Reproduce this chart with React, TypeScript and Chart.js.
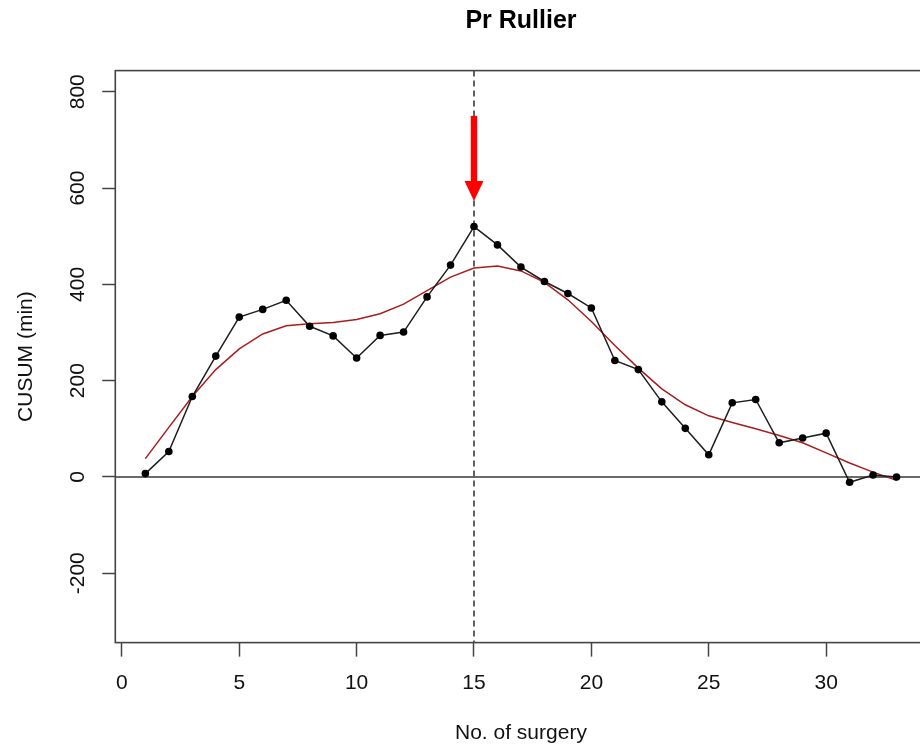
import React, { useEffect, useRef } from "react";
import { Chart, registerables } from "chart.js";

Chart.register(...registerables);

const TITLE = "Pr Rullier";
const X_LABEL = "No. of surgery";
const Y_LABEL = "CUSUM (min)";

const surgeryNo = [1, 2, 3, 4, 5, 6, 7, 8, 9, 10, 11, 12, 13, 14, 15, 16, 17, 18, 19, 20, 21, 22, 23, 24, 25, 26, 27, 28, 29, 30, 31, 32, 33];
const cusum = [7, 53, 167, 251, 332, 348, 367, 313, 293, 247, 294, 301, 374, 440, 520, 482, 436, 406, 381, 351, 242, 223, 156, 101, 46, 154, 161, 71, 81, 91, -11, 4, 0];
const smoothed = [38, 103, 167, 223, 266, 297, 314, 318, 321, 327, 339, 359, 387, 415, 434, 438, 428, 404, 368, 323, 273, 226, 183, 150, 127, 113, 100, 86, 71, 50, 29, 10, -7];

const xTicks = [0, 5, 10, 15, 20, 25, 30];
const yTicks = [-200, 0, 200, 400, 600, 800];
const xRange = [-0.28, 34.28];
const yRange = [-344, 844];

const cutPoint = 15;
const arrowFrom = 750;
const arrowTo = 573;

const FONT = "'Liberation Sans', Arial, Helvetica, sans-serif";

const refPlugin = {
  id: "refPlugin",
  beforeDatasetsDraw(chart: any) {
    const { ctx, chartArea: a, scales } = chart;
    const x = scales.x;
    const y = scales.y;
    ctx.save();
    ctx.strokeStyle = "#3a3a3a";
    ctx.lineWidth = 1.6;
    const y0 = y.getPixelForValue(0);
    ctx.beginPath();
    ctx.moveTo(a.left, y0);
    ctx.lineTo(a.right, y0);
    ctx.stroke();
    const xc = x.getPixelForValue(cutPoint);
    ctx.strokeStyle = "#505050";
    ctx.lineWidth = 1.8;
    ctx.setLineDash([6, 4]);
    ctx.beginPath();
    ctx.moveTo(xc, a.top);
    ctx.lineTo(xc, a.bottom);
    ctx.stroke();
    ctx.restore();
  },
  afterDatasetsDraw(chart: any) {
    const { ctx, scales } = chart;
    const x = scales.x;
    const y = scales.y;
    const xc = x.getPixelForValue(cutPoint);
    const yTop = y.getPixelForValue(arrowFrom);
    const yTip = y.getPixelForValue(arrowTo);
    const headLen = 20;
    const headHalf = 9.5;
    const shaftHalf = 3.2;
    ctx.save();
    ctx.fillStyle = "#FF0000";
    ctx.fillRect(xc - shaftHalf, yTop, shaftHalf * 2, yTip - headLen - yTop + 1);
    ctx.beginPath();
    ctx.moveTo(xc - headHalf, yTip - headLen);
    ctx.lineTo(xc + headHalf, yTip - headLen);
    ctx.lineTo(xc, yTip);
    ctx.closePath();
    ctx.fill();
    ctx.restore();
  },
  afterDraw(chart: any) {
    const { ctx, chartArea: a } = chart;
    ctx.save();
    ctx.strokeStyle = "#444";
    ctx.lineWidth = 1.6;
    ctx.strokeRect(a.left, a.top, a.right - a.left, a.bottom - a.top);
    ctx.restore();
  },
};

export default function App() {
  const ref = useRef<HTMLCanvasElement | null>(null);

  useEffect(() => {
    document.documentElement.style.overflow = "hidden";
    document.body.style.overflow = "hidden";
    document.body.style.margin = "0";
    const canvas = ref.current;
    if (!canvas) return;
    const chart = new Chart(canvas, {
      type: "line",
      data: {
        datasets: [
          {
            label: "CUSUM",
            data: surgeryNo.map((n, i) => ({ x: n, y: cusum[i] })),
            borderColor: "#1e1e1e",
            borderWidth: 1.5,
            pointRadius: 3.8,
            pointBackgroundColor: "#000",
            pointBorderWidth: 0,
            tension: 0,
            order: 1,
          },
          {
            label: "Smoothed",
            data: surgeryNo.map((n, i) => ({ x: n, y: smoothed[i] })),
            borderColor: "#A81E1E",
            borderWidth: 1.5,
            pointRadius: 0,
            tension: 0,
            order: 2,
          },
        ],
      },
      options: {
        responsive: false,
        animation: false,
        devicePixelRatio: 1,
        layout: { padding: { left: 0, right: 13.4, top: 0, bottom: 0 } },
        plugins: {
          legend: { display: false },
          tooltip: { enabled: false },
          title: {
            display: true,
            text: TITLE,
            fullSize: false,
            color: "#000",
            font: { family: FONT, size: 25, weight: "bold", lineHeight: 1.2 },
            padding: { top: 6.5, bottom: 34.1 },
          },
        },
        scales: {
          x: {
            type: "linear",
            min: xRange[0],
            max: xRange[1],
            afterBuildTicks: (s: any) => {
              s.ticks = xTicks.map((v) => ({ value: v }));
            },
            afterFit: (s: any) => {
              s.height = 105.4;
            },
            grid: {
              display: true,
              drawOnChartArea: false,
              drawTicks: true,
              tickLength: 14,
              tickColor: "#444",
              tickWidth: 1.5,
            },
            border: { display: false },
            ticks: {
              color: "#111",
              font: { family: FONT, size: 21 },
              padding: 14,
              maxRotation: 0,
              minRotation: 0,
              autoSkip: false,
            },
            title: {
              display: true,
              text: X_LABEL,
              color: "#111",
              font: { family: FONT, size: 21, lineHeight: 1.2 },
              padding: { top: 0, bottom: 2.4 },
            },
          },
          y: {
            type: "linear",
            min: yRange[0],
            max: yRange[1],
            afterBuildTicks: (s: any) => {
              s.ticks = yTicks.map((v) => ({ value: v }));
            },
            afterFit: (s: any) => {
              s.width = 115.3;
            },
            grid: {
              display: true,
              drawOnChartArea: false,
              drawTicks: true,
              tickLength: 13,
              tickColor: "#444",
              tickWidth: 1.5,
            },
            border: { display: false },
            ticks: {
              color: "#111",
              font: { family: FONT, size: 21 },
              padding: 3,
              minRotation: 90,
              maxRotation: 90,
              crossAlign: "center",
              autoSkip: false,
            },
            title: {
              display: true,
              text: Y_LABEL,
              color: "#111",
              font: { family: FONT, size: 21, lineHeight: 1.2 },
              padding: { top: 13.4, bottom: 0 },
            },
          },
        },
      },
      plugins: [refPlugin],
    } as any);
    return () => chart.destroy();
  }, []);

  return (
    <div style={{ position: "fixed", left: 0, top: 0, width: 940, height: 748, background: "#fff" }}>
      <canvas ref={ref} width={940} height={748} />
    </div>
  );
}
